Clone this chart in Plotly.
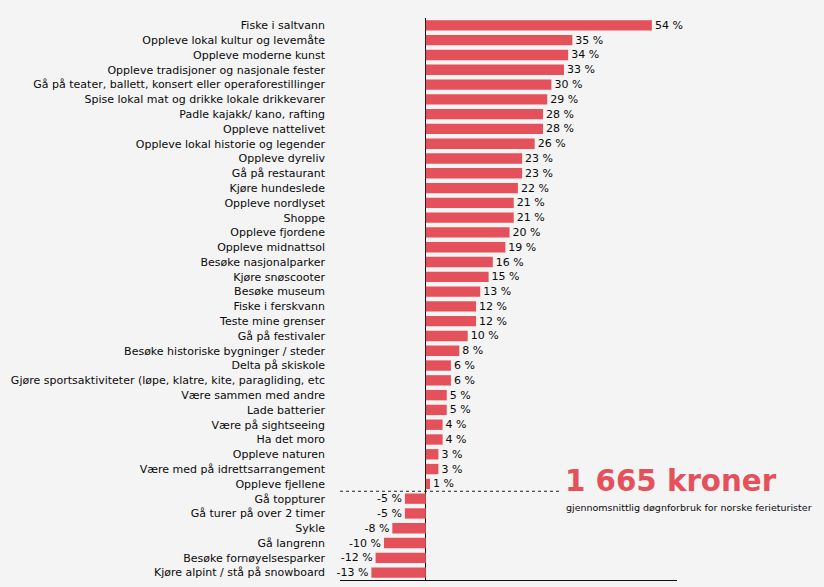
import plotly.graph_objects as go

categories = [
    "Fiske i saltvann",
    "Oppleve lokal kultur og levemåte",
    "Oppleve moderne kunst",
    "Oppleve tradisjoner og nasjonale fester",
    "Gå på teater, ballett, konsert eller operaforestillinger",
    "Spise lokal mat og drikke lokale drikkevarer",
    "Padle kajakk/ kano, rafting",
    "Oppleve nattelivet",
    "Oppleve lokal historie og legender",
    "Oppleve dyreliv",
    "Gå på restaurant",
    "Kjøre hundeslede",
    "Oppleve nordlyset",
    "Shoppe",
    "Oppleve fjordene",
    "Oppleve midnattsol",
    "Besøke nasjonalparker",
    "Kjøre snøscooter",
    "Besøke museum",
    "Fiske i ferskvann",
    "Teste mine grenser",
    "Gå på festivaler",
    "Besøke historiske bygninger / steder",
    "Delta på skiskole",
    "Gjøre sportsaktiviteter (løpe, klatre, kite, paragliding, etc",
    "Være sammen med andre",
    "Lade batterier",
    "Være på sightseeing",
    "Ha det moro",
    "Oppleve naturen",
    "Være med på idrettsarrangement",
    "Oppleve fjellene",
    "Gå toppturer",
    "Gå turer på over 2 timer",
    "Sykle",
    "Gå langrenn",
    "Besøke fornøyelsesparker",
    "Kjøre alpint / stå på snowboard",
]
values = [54, 35, 34, 33, 30, 29, 28, 28, 26, 23, 23, 22, 21, 21, 20, 19, 16, 15,
          13, 12, 12, 10, 8, 6, 6, 5, 5, 4, 4, 3, 3, 1, -5, -5, -8, -10, -12, -13]
value_labels = [f"{v} %" for v in values]

headline = "1 665 kroner"
subline = "gjennomsnittlig døgnforbruk for norske ferieturister"

RED = "#e5515a"
BG = "#f4f4f4"
FONT = "DejaVu Sans, Arial, sans-serif"
INK = "#0a0a0a"

W, H = 824, 587
ML, MR, MT, MB = 340, 147, 18, 7
XMIN, XMAX = -20.5, 60

fig = go.Figure(go.Bar(
    x=values,
    y=categories,
    orientation="h",
    marker=dict(color=RED, line=dict(width=0)),
    text=value_labels,
    textposition="outside",
    constraintext="none",
    cliponaxis=False,
    textfont=dict(family=FONT, size=11, color=INK),
    hoverinfo="skip",
))

# separator between positive and negative items
n_pos = sum(1 for v in values if v > 0)
fig.add_shape(type="line", xref="paper", yref="y",
              x0=0, x1=(562 - ML) / (W - ML - MR),
              y0=n_pos - 0.5, y1=n_pos - 0.5,
              line=dict(color="#222222", width=1, dash="dot"))

fig.add_annotation(text=f"<b>{headline}</b>", xref="paper", yref="paper",
                   x=(563 - ML) / (W - ML - MR), y=(H - MB - 481) / (H - MT - MB),
                   xanchor="left", yanchor="middle", showarrow=False,
                   font=dict(family=FONT, size=29.3, color=RED))
fig.add_annotation(text=subline, xref="paper", yref="paper",
                   x=(564 - ML) / (W - ML - MR), y=(H - MB - 507) / (H - MT - MB),
                   xanchor="left", yanchor="middle", showarrow=False,
                   font=dict(family=FONT, size=9.5, color=INK))

fig.update_layout(
    width=W, height=H,
    margin=dict(l=ML, r=MR, t=MT, b=MB),
    paper_bgcolor=BG, plot_bgcolor=BG,
    bargap=0.3,
    showlegend=False,
    font=dict(family=FONT, size=11, color=INK),
    xaxis=dict(range=[XMIN, XMAX], showgrid=False, showticklabels=False, ticks="",
               zeroline=True, zerolinecolor="#111111", zerolinewidth=1,
               showline=True, linecolor="#111111", linewidth=1, fixedrange=True),
    yaxis=dict(categoryorder="array", categoryarray=categories, autorange="reversed",
               showgrid=False, ticks="", showline=False, ticklabelstandoff=14,
               tickfont=dict(family=FONT, size=11, color=INK), fixedrange=True),
)

fig.write_html("out.html")
